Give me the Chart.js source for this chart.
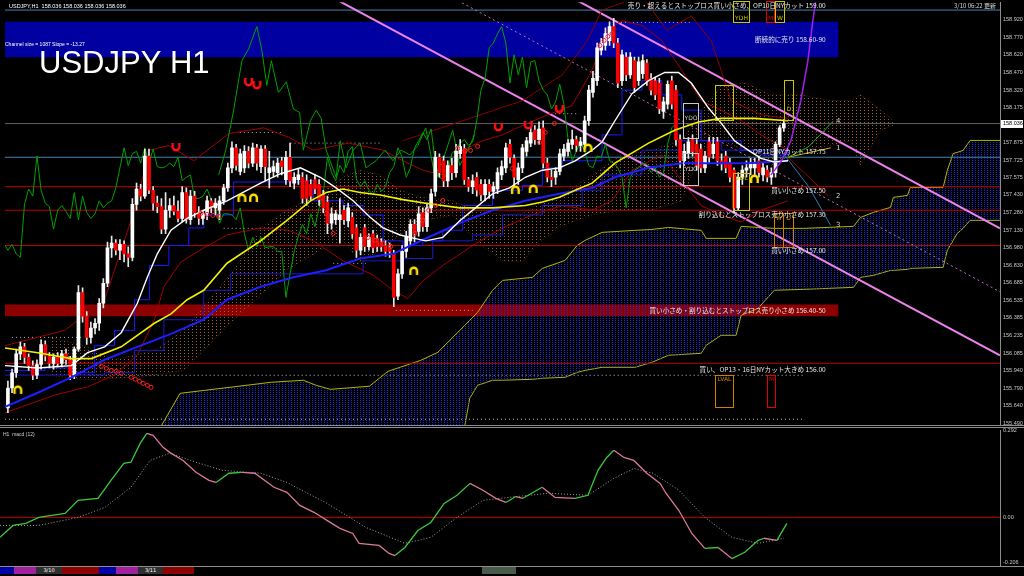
<!DOCTYPE html>
<html>
<head>
<meta charset="utf-8">
<title>USDJPY H1</title>
<script src="https://cdn.jsdelivr.net/npm/chart.js@4.4.1/dist/chart.umd.min.js"></script>
<style>
  html, body { margin: 0; padding: 0; background: #000; }
  body { position: relative; width: 1024px; height: 576px; overflow: hidden; }
  canvas { position: absolute; left: 0; }
  #main { top: -4px; }
  #macd { top: 424px; }
  .sep { position: absolute; left: 0; width: 1024px; height: 1px; background: #8c8c8c; }
  #strip { position: absolute; left: 0; top: 567px; width: 1000px; height: 7px; }
  #strip div { position: absolute; top: 0; height: 7px; font: 5px "DejaVu Sans", sans-serif; color: #fff; line-height: 7px; text-align: center; }
</style>
</head>
<body>
<canvas id="main" width="1024" height="436"></canvas>
<canvas id="macd" width="1024" height="148"></canvas>
<div class="sep" style="top:425px"></div>
<div class="sep" style="top:427px"></div>
<div class="sep" style="top:566px"></div>
<div id="strip">
  <div style="left:0;width:14px;background:#0000a8"></div>
  <div style="left:14px;width:22px;background:#a020a0"></div>
  <div style="left:36px;width:26px;background:#303030">3/10</div>
  <div style="left:62px;width:37px;background:#8b0000"></div>
  <div style="left:99px;width:17px;background:#0000a8"></div>
  <div style="left:116px;width:22px;background:#a020a0"></div>
  <div style="left:138px;width:25px;background:#303030">3/11</div>
  <div style="left:163px;width:31px;background:#8b0000"></div>
  <div style="left:482px;width:34px;background:#4a5a4a"></div>
</div>
<script>
// ---- price candles (H1), index 0 = left edge ----
var opens = [
  155.62,155.79,155.92,156.08,156.14,156.05,155.98,155.90,155.99,156.16,
  156.06,156.00,156.05,156.00,156.08,156.03,155.90,156.12,156.60,156.40,
  156.22,156.30,156.34,156.51,156.68,156.98,157.02,156.96,157.01,156.93,
  156.90,157.35,157.48,157.42,157.76,157.47,157.36,157.33,157.14,157.30,
  157.34,157.29,157.23,157.45,157.22,157.42,157.28,157.23,157.27,157.38,
  157.32,157.30,157.38,157.49,157.66,157.83,157.63,157.66,157.80,157.70,
  157.83,157.67,157.82,157.62,157.63,157.62,157.72,157.56,157.75,157.53,
  157.56,157.58,157.55,157.52,157.56,157.52,157.43,157.37,157.19,157.22,
  157.22,157.30,157.21,157.24,157.15,156.96,157.15,156.99,157.10,157.06,
  157.03,157.00,156.98,156.93,156.57,156.76,156.95,157.04,157.18,157.12,
  157.28,157.16,157.32,157.46,157.75,157.72,157.55,157.68,157.62,157.78,
  157.82,157.56,157.50,157.58,157.52,157.43,157.52,157.46,157.48,157.60,
  157.66,157.86,157.74,157.56,157.66,157.80,157.87,157.98,157.90,158.00,
  157.70,157.58,157.58,157.63,157.76,157.80,157.86,157.90,157.85,157.86,
  158.06,158.30,158.40,158.66,158.70,158.74,158.86,158.72,158.40,158.60,
  158.45,158.57,158.40,158.46,158.55,158.42,158.40,158.38,158.14,158.20,
  158.40,158.32,157.90,157.72,157.78,157.90,157.86,157.82,157.66,157.88,
  157.78,157.88,157.72,157.76,157.70,157.64,157.32,157.58,157.64,157.66,
  157.66,157.72,157.60,157.64,157.58,157.62,157.86,158.00
];
var highs = [
  155.85,155.95,156.12,156.18,156.17,156.08,156.02,156.03,156.20,156.19,
  156.09,156.08,156.09,156.11,156.12,156.06,156.14,156.66,156.64,156.44,
  156.35,156.38,156.55,156.72,157.03,157.08,157.05,157.05,157.04,156.99,
  157.40,157.53,157.52,157.82,157.82,157.50,157.42,157.40,157.45,157.40,
  157.42,157.38,157.50,157.49,157.47,157.46,157.33,157.30,157.42,157.40,
  157.40,157.42,157.52,157.70,157.88,157.86,157.82,157.85,157.84,157.87,
  157.86,157.85,157.85,157.80,157.72,157.74,157.75,157.80,157.87,157.62,
  157.65,157.62,157.60,157.56,157.60,157.56,157.47,157.42,157.32,157.30,
  157.40,157.34,157.36,157.28,157.18,157.10,157.18,157.10,157.13,157.09,
  157.06,157.04,157.02,156.96,156.80,157.00,157.12,157.22,157.22,157.33,
  157.32,157.36,157.48,157.80,157.78,157.76,157.72,157.74,157.86,157.90,
  157.86,157.58,157.60,157.62,157.56,157.56,157.56,157.54,157.66,157.72,
  157.87,157.90,157.77,157.70,157.86,157.92,158.00,158.02,158.05,158.06,
  157.74,157.64,157.66,157.82,157.86,157.90,157.98,157.93,157.92,158.10,
  158.36,158.48,158.72,158.76,158.85,158.90,158.93,158.76,158.66,158.64,
  158.64,158.60,158.60,158.62,158.58,158.46,158.43,158.42,158.26,158.40,
  158.44,158.36,157.94,157.86,157.92,157.94,157.90,157.86,157.80,157.92,
  157.92,157.92,157.78,157.80,157.74,157.66,157.62,157.68,157.72,157.74,
  157.74,157.76,157.70,157.68,157.66,157.88,158.02,158.07
];
var lows = [
  155.58,155.75,155.88,156.03,156.00,155.94,155.86,155.87,155.95,156.02,
  155.96,155.95,155.97,155.97,155.99,155.86,155.87,156.10,156.35,156.16,
  156.17,156.25,156.28,156.47,156.65,156.90,156.92,156.88,156.86,156.82,
  156.87,157.30,157.38,157.40,157.44,157.30,157.28,157.10,157.10,157.24,
  157.26,157.20,157.20,157.19,157.18,157.24,157.18,157.18,157.22,157.28,
  157.26,157.22,157.35,157.46,157.62,157.64,157.60,157.62,157.66,157.67,
  157.64,157.62,157.55,157.49,157.58,157.58,157.60,157.52,157.50,157.48,
  157.52,157.36,157.34,157.38,157.44,157.34,157.28,157.10,157.14,157.18,
  157.02,157.18,157.16,157.06,156.90,156.92,156.95,156.96,156.94,156.95,
  156.95,156.91,156.90,156.48,156.54,156.72,156.90,157.00,157.03,157.08,
  157.12,157.12,157.28,157.42,157.58,157.50,157.50,157.56,157.58,157.74,
  157.52,157.46,157.44,157.42,157.38,157.38,157.40,157.40,157.44,157.56,
  157.62,157.70,157.50,157.52,157.62,157.76,157.84,157.86,157.86,157.66,
  157.54,157.50,157.52,157.60,157.72,157.76,157.82,157.80,157.80,157.82,
  158.02,158.26,158.36,158.62,158.66,158.70,158.68,158.34,158.36,158.40,
  158.42,158.30,158.36,158.42,158.36,158.28,158.24,158.12,158.08,158.16,
  158.16,157.85,157.66,157.68,157.74,157.76,157.64,157.62,157.62,157.70,
  157.74,157.68,157.64,157.62,157.54,157.28,157.30,157.52,157.58,157.60,
  157.60,157.58,157.55,157.54,157.52,157.58,157.84,157.97
];
var closes = [
  155.79,155.92,156.08,156.14,156.05,155.98,155.90,155.99,156.16,156.06,
  156.00,156.05,156.00,156.08,156.03,155.90,156.12,156.60,156.40,156.22,
  156.30,156.34,156.51,156.68,156.98,157.02,156.96,157.01,156.93,156.90,
  157.35,157.48,157.42,157.76,157.47,157.36,157.33,157.14,157.30,157.34,
  157.29,157.23,157.45,157.22,157.42,157.28,157.23,157.27,157.38,157.32,
  157.36,157.38,157.49,157.66,157.83,157.68,157.78,157.80,157.70,157.83,
  157.70,157.82,157.67,157.66,157.67,157.70,157.67,157.75,157.55,157.58,
  157.60,157.40,157.40,157.42,157.48,157.39,157.32,157.19,157.27,157.27,
  157.26,157.22,157.32,157.10,156.96,157.07,156.99,157.07,156.98,156.99,
  156.99,156.95,156.95,156.56,156.76,156.95,157.08,157.18,157.10,157.27,
  157.16,157.32,157.44,157.75,157.62,157.55,157.68,157.62,157.80,157.84,
  157.56,157.50,157.55,157.47,157.43,157.52,157.46,157.50,157.62,157.67,
  157.83,157.75,157.58,157.66,157.83,157.89,157.96,157.90,157.99,157.70,
  157.58,157.56,157.63,157.78,157.82,157.87,157.90,157.85,157.88,158.06,
  158.32,158.42,158.68,158.72,158.80,158.86,158.72,158.38,158.62,158.45,
  158.60,158.34,158.56,158.57,158.40,158.32,158.28,158.16,158.22,158.37,
  158.20,157.90,157.72,157.80,157.88,157.80,157.68,157.66,157.76,157.75,
  157.86,157.72,157.70,157.66,157.58,157.32,157.58,157.64,157.66,157.70,
  157.69,157.62,157.66,157.58,157.62,157.86,158.00,158.036
];
var currentPrice = 158.036;

// ---- moving averages (x = bar index) ----
var whiteX = [-0.7,7.2,15.3,19.2,23.3,27.3,31.2,33.6,36.0,39.3,43.2,47.2,52.8,60.9,65.7,70.5,75.3,79.1,83.2,87.3,90.4,94.5,96.9,100.7,104.8,108.9,112.7,116.8,120.9,124.7,128.8,132.9,136.7,140.8,143.2,146.3,150.4,154.4,158.3,161.6,164.7,168.8,171.9,175.1,178.4,181.5,184.7,188.0];
var whiteY = [155.98,155.96,155.98,156.09,156.14,156.26,156.51,156.73,156.93,157.13,157.23,157.30,157.38,157.53,157.61,157.66,157.58,157.49,157.38,157.24,157.15,157.09,157.07,157.04,157.07,157.21,157.32,157.44,157.49,157.58,157.64,157.66,157.72,157.81,157.88,158.06,158.29,158.40,158.47,158.47,158.38,158.17,158.04,157.89,157.81,157.74,157.71,157.72];
var yellowX = [-0.7,7.2,15.3,20.1,27.3,35.3,39.3,43.2,47.2,52.8,60.9,67.1,72.9,76.7,80.8,84.9,89.7,95.2,100.7,108.9,116.8,124.7,128.8,132.9,136.7,140.8,146.3,154.4,160.7,166.4,171.9,179.9,188.0];
var yellowY = [156.13,156.09,156.04,156.04,156.14,156.34,156.42,156.54,156.62,156.85,157.04,157.21,157.38,157.45,157.48,157.45,157.43,157.39,157.36,157.32,157.32,157.34,157.37,157.41,157.47,157.53,157.70,157.87,157.98,158.05,158.08,158.08,158.06];
var blueX = [-0.7,7.2,15.3,23.3,31.2,39.3,47.2,52.8,60.9,68.8,76.7,84.9,92.8,100.7,108.9,116.8,124.7,132.9,140.8,146.3,154.4,162.4,178.4,188.0];
var blueY = [155.63,155.75,155.88,156.03,156.14,156.25,156.37,156.54,156.65,156.73,156.79,156.89,156.93,157.06,157.19,157.30,157.38,157.44,157.49,157.58,157.66,157.70,157.70,157.72];

// ---- bands (dark red) ----
var bbUpX = [-0.7,13.7,23.3,30.5,34.1,38.8,44.8,53.2,61.6,67.6,73.6,82.0,90.4,95.2,100.0,104.8,109.6,114.4,119.2,124.0,130.0,136.0,140.8,144.4,148.0,152.8,157.6,162.4,167.1,171.9,176.7,181.5,188.0];
var bbUpY = [156.15,156.28,156.54,157.30,157.81,157.85,157.72,157.95,158.00,157.92,157.81,157.87,157.81,157.72,157.64,157.60,157.81,157.89,157.94,158.02,158.11,158.19,158.49,158.83,158.91,158.87,158.74,158.49,158.23,158.15,158.06,157.94,157.81];
var bbLoX = [-0.7,11.3,19.2,25.7,31.2,35.3,37.6,41.7,47.2,52.8,60.9,67.6,73.6,80.8,88.0,92.8,96.4,100.0,104.8,112.0,119.2,126.4,133.6,140.8,145.6,150.4,157.6,162.4,167.1,171.9,176.7,181.5,188.0];
var bbLoY = [155.58,155.73,155.80,155.90,156.07,156.37,156.65,156.86,156.98,157.09,157.15,157.13,157.04,156.87,156.75,156.62,156.55,156.70,156.83,157.00,157.15,157.26,157.34,157.30,157.38,157.64,157.77,157.55,157.34,157.26,157.20,157.30,157.38];
var bbOutX = [95.2,109.6,124.0,133.6,139.6,143.2,152.8,158.8,164.7,169.5,174.3,181.5,188.0];
var bbOutY = [157.89,158.06,158.23,158.45,158.74,159.00,159.12,158.83,158.95,158.74,158.23,158.11,158.08];

// ---- conversion / base lines (blue, stepped) ----
var tenX = [-0.7,8.9,16.1,20.9,25.7,30.5,34.1,38.8,43.6,47.2,54.4,70.5,73.6,80.8,85.6,90.4,95.2,100.0,104.8,109.6,116.8,124.0,128.8,133.6,138.4,143.2,148.0,152.8,157.6,162.4,167.1,171.9,176.7,181.5,188.0];
var tenY = [155.94,155.96,155.92,156.15,156.28,156.54,156.83,157.00,157.15,157.26,157.54,157.55,157.38,157.34,157.26,157.04,157.00,157.04,157.13,157.34,157.47,157.51,157.66,157.72,157.72,157.94,158.32,158.40,158.28,158.15,157.89,157.89,157.81,157.77,157.81];
var kijX = [-0.7,13.7,23.3,30.5,37.6,47.2,53.7,81.5,85.6,95.2,102.4,112.0,119.2,128.8,138.4,143.2,152.8,162.4,171.9,181.5,188.0];
var kijY = [155.90,155.90,155.92,156.11,156.37,156.62,156.76,156.76,156.87,156.89,157.04,157.09,157.26,157.34,157.47,157.60,157.81,157.89,157.81,157.81,157.81];

// ---- cloud (brown dotted) ----
var cloudX = [10.1,18.5,25.7,35.3,42.4,47.2,54.4,60.9,67.1,75.3,80.8,84.9,89.7,94.5,100.0,107.2,112.7,119.2,124.0,127.1,133.6,140.8,147.9,155.2,162.4,167.1,171.9,177.9,183.9,191.1,198.3,203.1,205.5,210.3,213.4];
var cloudTop = [156.22,156.15,156.03,156.11,156.28,156.49,156.79,157.15,157.30,157.44,157.58,157.64,157.60,157.47,157.41,157.38,157.30,157.26,157.27,157.34,157.43,157.60,157.77,157.81,157.89,158.15,158.36,158.38,158.28,158.28,158.23,158.23,158.28,158.15,158.06];
var cloudBot = [155.90,155.86,155.87,155.90,155.94,156.11,156.37,156.58,156.79,156.96,157.04,156.86,156.96,157.09,157.21,157.26,157.04,156.87,156.86,157.00,157.17,157.26,157.30,157.30,157.38,157.81,157.89,157.81,157.68,157.81,157.85,157.89,157.68,157.98,158.02];

// ---- higher time frame cloud (blue dotted, yellow edges) ----
var bcX = [36.9,41.5,63.5,71.2,74.3,77.7,87.1,91.6,99.5,103.6,110.1,111.3,113.2,116.8,119.2,126.4,128.8,134.3,137.2,139.1,143.2,151.1,155.2,159.2,167.1,168.3,171.9,175.5,176.7,180.8,184.7,191.8,203.8,205.5,208.6,212.7,213.4,216.8,217.5,225.4,226.4,227.8,228.8,230.2,231.9,239.1];
var bcTop = [155.465,155.745,155.839,155.856,155.813,155.779,155.805,155.932,156.025,156.093,156.322,156.365,156.433,156.620,156.704,156.730,156.806,156.874,157.001,157.044,157.112,157.129,157.137,157.154,157.129,157.061,157.061,157.061,157.163,157.154,157.146,157.146,157.163,157.239,157.282,157.324,157.409,157.426,157.494,157.494,157.638,157.782,157.791,157.808,157.893,157.893];
var bcBot = [155.346,155.346,155.346,155.346,155.346,155.346,155.346,155.346,155.346,155.346,155.465,155.703,155.813,155.856,155.856,155.864,155.873,155.881,155.923,155.940,155.966,155.966,156.008,156.068,156.085,156.153,156.238,156.238,156.407,156.467,156.620,156.628,156.645,156.730,156.747,156.789,156.789,156.798,156.806,156.815,156.959,157.044,157.103,157.146,157.214,157.214];

// ---- green oscillator ----
var oscX = [50.8,52.5,54.4,56.4,58.0,60.0,61.2,62.4,63.5,65.2,67.1,68.8,70.3,71.2,72.9,74.3,75.5,76.7,79.1,80.1,81.5,83.2,84.9,86.3,88.7,90.9,92.8,94.7,96.9,98.8,100.7,103.1,104.8,107.2,108.9,110.8,112.5];
var oscY = [157.60,157.81,158.15,158.57,158.67,158.86,158.66,158.36,158.57,158.30,158.39,158.16,158.13,157.81,158.06,158.15,158.08,157.81,157.58,157.89,157.66,157.81,157.87,157.66,157.72,157.81,157.72,157.81,157.77,157.85,158.00,157.55,157.72,157.98,157.68,157.81,157.94];
var chikouShift = 26;

// ---- channel ----
var chLowX = [79.6, 239.1], chLowY = [159.081, 156.068];
var chUpX = [137.2, 239.1], chUpY = [159.081, 157.146];
var chMidX = [108.4, 239.1], chMidY = [159.081, 156.607];
var purpleX = [183.9,186.3,188.7,191.1,192.8,194.0,194.7];
var purpleY = [157.60,157.71,157.89,158.23,158.57,158.91,159.08];
var proj4X = [188.0,193.0,199.0], proj4Y = [157.75,157.84,158.06];
var proj1X = [188.0,198.3], proj1Y = [157.75,157.83];
var proj2X = [188.0,197.8], proj2Y = [157.75,157.42];
var proj3X = [186.5,193.0,198.3], proj3Y = [157.80,157.50,157.17];
var projNames = ['4','1','2','3'];

// ---- levels ----
var levelPrices = [159.00, 158.036, 157.75, 157.50, 157.30, 157.00, 156.00];
var blueZone = [158.60, 158.90];
var redZone = [156.40, 156.50];
var labelTexts = [
  '売り・超えるとストップロス買い小さめ、OP10日NYカット 159.00',
  '断続的に売り 158.60-90',
  'OP11日NYカット 157.75',
  '買い小さめ 157.50',
  '割り込むとストップロス売り小さめ 157.30',
  '買い小さめ 157.00',
  '買い小さめ・割り込むとストップロス売り小さめ 156.40-50',
  '買い、OP13・16日NYカット大きめ 156.00'
];
var labelPrices = [159.00, 158.75, 157.75, 157.50, 157.30, 157.00, 156.45, 156.00];
var hlFrom = [55.9,68.1,93.5,-0.7,19.7,145.8,131.9,1.0,52.0,78.4];
var hlTo = [66.3,89.9,112.0,191.8,191.8,164.5,137.7,17.7,61.6,86.3];
var hlPrice = [157.96,157.87,156.45,155.525,155.898,158.895,158.12,156.22,157.146,156.849];

// ---- markers ----
var ringX = [22.5,23.7,24.9,26.1,27.3,29.7,30.7,31.7,32.6,33.6,34.5,46.5,48.0,49.4,50.8,76.7,78.4,86.8,88.5,90.4,92.3,98.1,100.0,101.4,103.1,104.8,108.4,110.1,111.5,113.2,121.6,128.1,129.5,131.7,142.7,143.7,144.6,145.6];
var ringY = [155.974,155.957,155.940,155.932,155.915,155.881,155.864,155.847,155.830,155.813,155.796,157.273,157.265,157.256,157.248,157.273,157.103,157.069,157.044,157.018,156.993,157.103,157.214,157.299,157.341,157.383,157.825,157.808,157.808,157.842,157.655,157.876,157.961,158.037,158.699,158.742,158.776,158.801];
var sellX = [58.0,60.0,40.5,118.2,125.4,132.9];
var sellY = [158.385,158.36,157.833,158.003,158.02,158.156];
var buyX = [2.4,56.4,59.2,97.8,122.3,126.6,139.8,179.9];
var buyY = [155.779,157.409,157.409,156.789,157.477,157.485,157.833,157.570];

// ---- boxes (YDO/YDC etc.) ----
var boxes = [
  {i0:162.6, i1:166.4, p0:158.207, p1:157.910, pt:158.08, text:'YDO', color:'#c8c8c8'},
  {i0:162.6, i1:166.4, p0:157.782, p1:157.511, pt:157.647, text:'YDC', color:'#c8c8c8'},
  {i0:174.8, i1:178.7, p0:159.08, p1:158.895, pt:158.93, text:'YDH', color:'#c8c800'},
  {i0:182.7, i1:184.7, p0:159.08, p1:158.895, pt:158.93, text:'M', color:'#e00000'},
  {i0:184.9, i1:187.1, p0:159.08, p1:158.895, pt:158.93, text:'W', color:'#c8c800'},
  {i0:187.1, i1:189.2, p0:158.402, p1:158.063, pt:158.16, text:'D', color:'#c8c800'},
  {i0:170.3, i1:174.8, p0:158.36, p1:158.063, pt:158.10, text:'', color:'#c8c800'},
  {i0:174.8, i1:178.7, p0:157.613, p1:157.299, pt:157.57, text:'VDL', color:'#c8c800'},
  {i0:184.7, i1:186.9, p0:157.273, p1:156.985, pt:157.23, text:'W', color:'#d08000'},
  {i0:186.9, i1:189.2, p0:157.273, p1:156.985, pt:157.23, text:'D', color:'#d08000'},
  {i0:170.5, i1:174.8, p0:155.898, p1:155.626, pt:155.86, text:'LVAL', color:'#d08000'},
  {i0:183.0, i1:184.9, p0:155.898, p1:155.626, pt:155.86, text:'M', color:'#e00000'}
];

// ---- axis ticks ----
var priceTicks = [158.920,158.770,158.620,158.470,158.320,158.175,157.875,157.725,157.575,157.430,157.280,157.130,156.980,156.830,156.685,156.535,156.385,156.235,156.085,155.940,155.790,155.640,155.490];

// ---- MACD panel ----
var macdX = [-0.7,2.4,5.5,8.6,14.9,18.0,22.8,25.9,29.0,30.7,32.9,34.5,36.0,38.4,40.0,43.2,46.3,49.4,51.1,54.2,57.3,60.4,65.0,68.1,71.2,74.6,77.7,80.8,83.9,85.4,90.2,92.6,94.0,96.4,99.5,102.6,105.8,108.9,112.0,115.1,118.2,120.6,123.0,124.7,129.3,132.4,137.2,140.3,142.7,144.8,146.5,148.9,151.3,154.4,157.6,159.0,162.1,165.2,168.3,171.5,174.8,177.9,181.1,182.5,185.6,188.0];
var macdY = [-0.067,-0.027,-0.020,0.000,0.013,0.057,0.064,0.124,0.181,0.185,0.248,0.282,0.275,0.235,0.218,0.191,0.151,0.124,0.117,0.148,0.151,0.148,0.101,0.084,0.040,0.017,-0.010,-0.037,-0.054,-0.087,-0.094,-0.121,-0.128,-0.101,-0.044,-0.017,0.047,0.074,0.114,0.091,0.064,0.050,0.070,0.064,0.101,0.067,0.064,0.074,0.158,0.201,0.225,0.201,0.191,0.148,0.114,0.081,0.023,-0.054,-0.104,-0.101,-0.138,-0.117,-0.077,-0.070,-0.077,-0.020];
var sigX = [-0.7,8.6,18.0,24.5,30.7,35.3,40.0,46.3,52.5,61.9,68.1,77.7,87.1,96.4,102.6,108.9,115.1,121.3,130.9,140.3,146.5,151.3,155.9,162.1,168.3,174.8,181.1,187.3];
var sigY = [-0.027,-0.027,0.000,0.034,0.101,0.191,0.215,0.185,0.158,0.148,0.117,0.047,-0.034,-0.087,-0.067,0.000,0.057,0.067,0.081,0.074,0.131,0.164,0.148,0.091,0.000,-0.067,-0.087,-0.070];
var macdTicks = [0.292, 0, -0.152];
var macdTickLabels = ['0.292', '0.00', '-0.206'];

// --------------------------------------------------------------
var X_MIN = -0.7, X_MAX = 239.1;
var TOP = 4; // main canvas sits 4px above the page top
var mainCtx = document.getElementById('main').getContext('2d');

function pts(xs, ys) {
  return xs.map(function(x, k) { return {x: x, y: ys[k]}; });
}
function line(data, color, width, extra) {
  var ds = {type: 'line', data: data, borderColor: color, borderWidth: width,
    pointRadius: 0, fill: false, tension: 0, order: 50};
  for (var k in extra) ds[k] = extra[k];
  return ds;
}
function dots(color, w, h) {
  var c = document.createElement('canvas');
  c.width = w; c.height = h;
  var g = c.getContext('2d');
  g.fillStyle = color;
  g.fillRect(0, 0, 1, 1);
  return mainCtx.createPattern(c, 'repeat');
}
function shoe(color, up) {
  var c = document.createElement('canvas');
  c.width = 11; c.height = 11;
  var g = c.getContext('2d');
  g.strokeStyle = color; g.lineWidth = 2.4;
  g.beginPath();
  if (up) {
    g.moveTo(2.2, 1); g.lineTo(2.2, 5);
    g.arc(5.5, 5, 3.3, Math.PI, 0, true);
    g.lineTo(8.8, 1);
  } else {
    g.moveTo(2.2, 10); g.lineTo(2.2, 6);
    g.arc(5.5, 6, 3.3, Math.PI, 0, false);
    g.lineTo(8.8, 10);
  }
  g.stroke();
  return c;
}

var idx = closes.map(function(_, i) { return i; });
var span = [X_MIN, 200.2];

var datasets = [
  // zones
  line(pts(span, [blueZone[1], blueZone[1]]), 'transparent', 0, {fill: '+1', backgroundColor: '#0000a0', order: 300}),
  line(pts(span, [blueZone[0], blueZone[0]]), 'transparent', 0, {order: 300}),
  line(pts(span, [redZone[1], redZone[1]]), 'transparent', 0, {fill: '+1', backgroundColor: '#8c0000', order: 300}),
  line(pts(span, [redZone[0], redZone[0]]), 'transparent', 0, {order: 300}),
  // blue cloud
  line(pts(bcX, bcTop), '#b4b400', 1, {fill: '+1', backgroundColor: dots('#1428e6', 3, 2), order: 250}),
  line(pts(bcX, bcBot), '#b4b400', 1, {order: 250}),
  // brown cloud
  line(pts(cloudX, cloudTop), 'rgba(150,90,40,0.5)', 1, {fill: '+1', backgroundColor: dots('#9a5c2c', 4, 3), borderDash: [1, 2], order: 240}),
  line(pts(cloudX, cloudBot), 'rgba(150,90,40,0.5)', 1, {borderDash: [1, 2], order: 240})
];

// level lines
var levelColors = ['#4682b4', '#606060', '#4682b4', '#c00000', '#c00000', '#c00000', '#c00000'];
levelPrices.forEach(function(p, k) {
  datasets.push(line(pts([X_MIN, X_MAX], [p, p]), levelColors[k], 1, {order: 200}));
});
// dotted highs / lows
hlPrice.forEach(function(p, k) {
  datasets.push(line(pts([hlFrom[k], hlTo[k]], [p, p]), '#b4b4b4', 1, {borderDash: [1, 3], order: 190}));
});

datasets.push(
  line(pts(chLowX, chLowY), '#ee82ee', 2, {order: 120}),
  line(pts(chUpX, chUpY), '#ee82ee', 2, {order: 120}),
  line(pts(chMidX, chMidY), '#c070c0', 1, {borderDash: [2, 3], order: 120}),
  line(pts(bbUpX, bbUpY), '#a00000', 1, {order: 110}),
  line(pts(bbLoX, bbLoY), '#a00000', 1, {order: 110}),
  line(pts(bbOutX, bbOutY), '#8a0000', 1, {order: 110}),
  line(pts(tenX, tenY), '#1a1aff', 1, {stepped: true, order: 105}),
  line(pts(kijX, kijY), '#1a1acc', 1, {stepped: true, order: 105}),
  line(pts(oscX, oscY), '#00a000', 1, {order: 100}),
  line(closes.map(function(c, i) { return {x: i - chikouShift, y: c}; }), '#00a000', 1, {order: 100}),
  // candles
  {type: 'bar', data: idx.map(function(i) { return {x: i, y: [lows[i], highs[i]]}; }),
    backgroundColor: '#e8e8e8', grouped: false, barPercentage: 1, categoryPercentage: 1,
    maxBarThickness: 1, order: 60},
  {type: 'bar', data: idx.map(function(i) { return {x: i, y: [opens[i], closes[i]]}; }),
    backgroundColor: function(c) { var i = c.dataIndex; return closes[i] >= opens[i] ? '#ffffff' : '#ff0000'; },
    grouped: false, barPercentage: 1, categoryPercentage: 1, maxBarThickness: 3, minBarLength: 1, order: 59},
  line(pts(blueX, blueY), '#1e1eff', 2, {order: 40}),
  line(pts(yellowX, yellowY), '#f0f000', 1.6, {order: 39}),
  line(pts(whiteX, whiteY), '#ffffff', 1.4, {order: 38}),
  line(pts(purpleX, purpleY), '#a020f0', 1.5, {order: 35}),
  line(pts(proj4X, proj4Y), '#20a020', 1, {order: 35}),
  line(pts(proj1X, proj1Y), '#c8b400', 1, {order: 35}),
  line(pts(proj2X, proj2Y), '#a00000', 1, {order: 35}),
  line(pts(proj3X, proj3Y), '#2080c0', 1, {order: 35}),
  {type: 'scatter', data: pts(ringX, ringY), pointStyle: 'circle', pointRadius: 2,
    borderColor: '#ff2020', borderWidth: 1, backgroundColor: 'transparent', order: 30},
  {type: 'scatter', data: pts(sellX, sellY), pointStyle: shoe('#ff1010', true), order: 20},
  {type: 'scatter', data: pts(buyX, buyY), pointStyle: shoe('#ffe000', false), order: 20}
);

var mainOverlay = {
  id: 'mainOverlay',
  afterDatasetsDraw: function(chart) {
    var ctx = chart.ctx, xs = chart.scales.x, ys = chart.scales.y;
    ctx.save();
    // boxes
    ctx.font = '6px "DejaVu Sans"';
    ctx.textAlign = 'center';
    ctx.textBaseline = 'middle';
    boxes.forEach(function(b) {
      var x0 = Math.round(xs.getPixelForValue(b.i0)) + 0.5, x1 = Math.round(xs.getPixelForValue(b.i1)) + 0.5;
      var y0 = Math.round(ys.getPixelForValue(b.p0)) + 0.5, y1 = Math.round(ys.getPixelForValue(b.p1)) + 0.5;
      ctx.strokeStyle = b.color; ctx.lineWidth = 1;
      ctx.strokeRect(x0, y0, x1 - x0, y1 - y0);
      ctx.fillStyle = b.color;
      if (b.text) ctx.fillText(b.text, (x0 + x1) / 2, ys.getPixelForValue(b.pt));
    });
    // level labels
    var dy = [-5, 0, -6, 4, 4, 5, 0, 6];
    ctx.font = '6.6px "Noto Sans CJK JP"';
    ctx.textAlign = 'right';
    ctx.fillStyle = '#e6e6e6';
    labelTexts.forEach(function(t, k) {
      ctx.fillText(t, xs.getPixelForValue(197.1), ys.getPixelForValue(labelPrices[k]) + dy[k]);
    });
    // projection numbers
    ctx.font = '7px "DejaVu Sans"';
    ctx.textAlign = 'left';
    ctx.fillStyle = '#d0d0d0';
    var ends = [proj4Y[2], proj1Y[1], proj2Y[1], proj3Y[2]];
    projNames.forEach(function(n, k) {
      ctx.fillText(n, xs.getPixelForValue(199.6), ys.getPixelForValue(ends[k]));
    });
    // titles
    ctx.fillStyle = '#ffffff';
    ctx.textBaseline = 'middle';
    ctx.font = '5.5px "Liberation Sans"';
    ctx.fillText('USDJPY,H1  158.036 158.036 158.036 158.036', 9, TOP + 6);
    ctx.font = '5px "Liberation Sans"';
    ctx.fillText('Channel size = 1087 Slope = -13.27', 5, TOP + 44.5);
    ctx.font = '31px "Liberation Sans"';
    ctx.textBaseline = 'alphabetic';
    ctx.fillText('USDJPY H1', 39, TOP + 73);
    ctx.textAlign = 'right';
    ctx.textBaseline = 'middle';
    ctx.font = '6px "Noto Sans CJK JP"';
    ctx.fillStyle = '#d8d8d8';
    ctx.fillText('3/10 06:22 更新', 996, TOP + 6);
    ctx.restore();
  },
  afterDraw: function(chart) {
    var ctx = chart.ctx, ys = chart.scales.y;
    var y = ys.getPixelForValue(currentPrice);
    ctx.save();
    ctx.fillStyle = '#ffffff';
    ctx.fillRect(1001, Math.round(y) - 4, 22, 8);
    ctx.fillStyle = '#000000';
    ctx.font = '5.5px "Liberation Sans"';
    ctx.textAlign = 'left';
    ctx.textBaseline = 'middle';
    ctx.fillText(currentPrice.toFixed(3), 1003, y);
    ctx.restore();
  }
};

new Chart(mainCtx, {
  type: 'line',
  data: {datasets: datasets},
  options: {
    responsive: false,
    animation: false,
    events: [],
    layout: {padding: 0},
    plugins: {legend: {display: false}, tooltip: {enabled: false}},
    scales: {
      x: {type: 'linear', min: X_MIN, max: X_MAX, display: false, offset: false},
      y: {
        position: 'right', min: 155.470, max: 159.066,
        afterBuildTicks: function(s) { s.ticks = priceTicks.map(function(v) { return {value: v}; }); },
        afterFit: function(s) { s.width = 24; },
        grid: {display: false, drawTicks: false},
        border: {color: '#8c8c8c'},
        ticks: {color: '#c8c8c8', padding: 3, autoSkip: false,
          font: {size: 5.5, family: 'Liberation Sans'},
          callback: function(v) { return v.toFixed(3); }}
      }
    }
  },
  plugins: [mainOverlay]
});

// ---- MACD ----
var macdOverlay = {
  id: 'macdOverlay',
  afterDatasetsDraw: function(chart) {
    var ctx = chart.ctx;
    ctx.save();
    ctx.fillStyle = '#d0d0d0';
    ctx.font = '5px "Liberation Sans"';
    ctx.textBaseline = 'middle';
    ctx.fillText('H1  macd (12)', 3, 11);
    ctx.restore();
  }
};

new Chart(document.getElementById('macd').getContext('2d'), {
  type: 'line',
  data: {datasets: [
    line(pts([X_MIN, X_MAX], [0, 0]), '#c00000', 1, {order: 10}),
    line(pts(sigX, sigY), '#a0a0a0', 1, {borderDash: [1, 2], order: 5}),
    line(pts(macdX, macdY), '#3cc83c', 1.3, {order: 1,
      segment: {borderColor: function(c) { return c.p1.parsed.y >= c.p0.parsed.y ? '#3cc83c' : '#d8789a'; }}})
  ]},
  options: {
    responsive: false,
    animation: false,
    events: [],
    layout: {padding: 0},
    plugins: {legend: {display: false}, tooltip: {enabled: false}},
    scales: {
      x: {type: 'linear', min: X_MIN, max: X_MAX, display: false},
      y: {
        position: 'right', min: -0.162, max: 0.292,
        afterBuildTicks: function(s) { s.ticks = macdTicks.map(function(v) { return {value: v}; }); },
        afterFit: function(s) { s.width = 24; },
        grid: {display: false, drawTicks: false},
        border: {color: '#8c8c8c'},
        ticks: {color: '#c8c8c8', padding: 3, autoSkip: false,
          font: {size: 5.5, family: 'Liberation Sans'},
          callback: function(v, k) { return macdTickLabels[k]; }}
      }
    }
  },
  plugins: [macdOverlay]
});
</script>
</body>
</html>
